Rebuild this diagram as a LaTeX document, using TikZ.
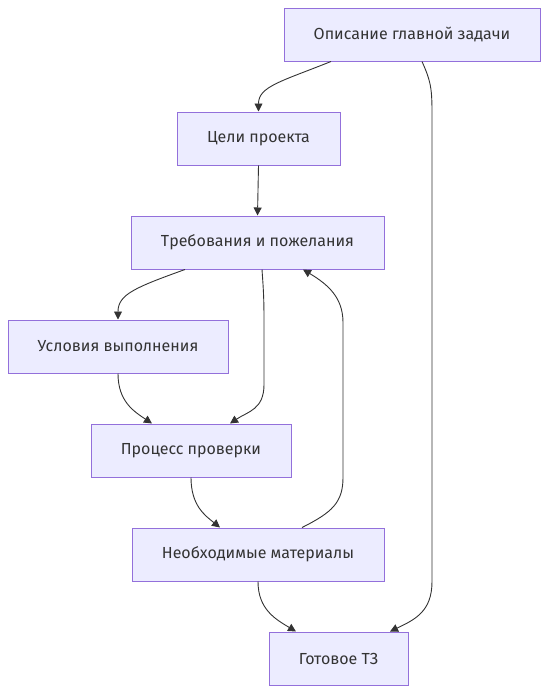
\documentclass[tikz,border=0pt]{standalone}
\usepackage{fontspec}
\setmainfont{Fira Sans}
\usetikzlibrary{arrows.meta}
\definecolor{nodefill}{HTML}{ECECFF}
\definecolor{nodeline}{HTML}{9370DB}
\definecolor{txt}{HTML}{333333}
\tikzset{
  box/.style={draw=nodeline, fill=nodefill, line width=1pt, minimum height=53pt, inner sep=0pt, text=txt, font=\fontsize{16}{19}\selectfont},
  link/.style={draw=txt, line width=0.9pt, -{Triangle[length=8pt,width=8pt]}}
}
\begin{document}
\begin{tikzpicture}[x=1pt,y=-1pt]
\useasboundingbox (0,0) rectangle (548,694);
\node[box, minimum width=256pt] (n1) at (412,34.5) {Описание главной задачи};
\node[box, minimum width=163pt] (n2) at (258.5,138.5) {Цели проекта};
\node[box, minimum width=253pt] (n3) at (257.5,242.5) {Требования и пожелания};
\node[box, minimum width=220pt] (n4) at (118,346.5) {Условия выполнения};
\node[box, minimum width=200pt] (n5) at (191,450.5) {Процесс проверки};
\node[box, minimum width=252pt] (n6) at (258,554.5) {Необходимые материалы};
\node[box, minimum width=139pt] (n7) at (338.5,658.5) {Готовое ТЗ};

\draw[link] ([xshift=-81pt]n1.south) .. controls +(-50,20) and +(0,-25) .. (n2.north);
\draw[link] ([xshift=10pt]n1.south) .. controls +(8,18) and +(0,-25) .. ++(10,50) -- ++(0,470) .. controls +(0,30) and +(25,-12) .. ([xshift=51.5pt]n7.north);
\draw[link] (n2.south) -- (n3.north);
\draw[link] ([xshift=-72.5pt]n3.south) .. controls +(-50,18) and +(0,-25) .. (n4.north);
\draw[link] ([xshift=4.5pt]n3.south) .. controls +(1,15) and +(0,-25) .. ++(2,50) -- ++(0,65) .. controls +(0,25) and +(18,-12) .. ([xshift=39pt]n5.north);
\draw[link] (n4.south) .. controls +(0,28) and +(-18,-12) .. ([xshift=-39pt]n5.north);
\draw[link] (n5.south) .. controls +(0,28) and +(-15,-12) .. ([xshift=-38pt]n6.north);
\draw[link] ([xshift=44pt]n6.north) .. controls +(30,-15) and +(0,25) .. ++(41,-50) -- ++(0,-155) .. controls +(0,-25) and +(25,15) .. ([xshift=45.5pt]n3.south);
\draw[link] (n6.south) .. controls +(0,28) and +(-20,-12) .. ([xshift=-42.5pt]n7.north);
\end{tikzpicture}
\end{document}
